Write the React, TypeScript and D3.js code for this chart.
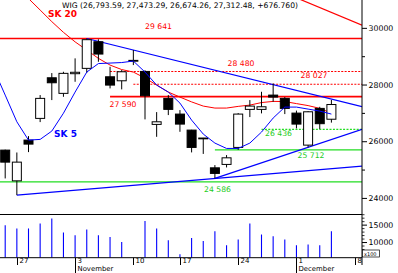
import React from "react";
import * as d3 from "d3";

// ---------- data ----------
const sessions = [
  "10-23", "10-24", "10-27", "10-28", "10-29", "10-30", "10-31",
  "11-03", "11-04", "11-05", "11-06", "11-07", "11-10", "11-12",
  "11-13", "11-14", "11-17", "11-18", "11-19", "11-20", "11-21",
  "11-24", "11-25", "11-26", "11-27", "11-28", "12-01", "12-02",
  "12-03", "12-04", "12-05", "12-08",
];

const opens = [null, 25704, 24620, 26057, 26823, 28256, 27706, 28400, 28588, 29527, 28291, 28150, 28840, 28480, 26611, 27529, 26975, 26410, 26130, 25079, 25199, 25799, 27141, 27141, 27645, 27529, 27010, 25880, 27176, 26793.59];
const highs = [null, 25720, 25620, 26198, 27646, 28422, 28468, 28941, 29641, 29612, 28644, 28528, 29234, 28520, 27045, 27646, 27116, 26420, 26135, 25175, 25528, 27010, 27469, 27762, 28058, 27575, 27098, 27081, 27232, 27473.29];
const lows = [null, 24705, 24116, 25633, 26692, 27469, 27585, 28115, 28422, 28821, 27882, 27847, 28704, 26788, 26173, 26940, 26350, 25623, 25570, 24705, 25093, 25712, 26869, 27000, 27409, 26975, 26470, 25800, 26445, 26674.26];
const closes = [null, 25280, 25280, 25916, 27529, 28080, 28412, 28450, 29600, 29093, 27998, 28468, 28870, 27621, 26703, 27141, 26622, 25799, 26117, 24882, 25432, 26975, 27257, 27233, 27575, 27176, 26622, 27056, 26636, 27312.48];
const volumes = [null, 15000, 14050, 14050, 15490, 16940, 12890, 12110, 13760, 12110, 11620, 10170, null, 16160, 14050, 10670, 6620, 11330, 10460, 13270, 9220, 10870, 15490, 12310, 11820, 10870, 9220, 9420, 9220, 13270];

const sk5 = [28574, 27645, 26703, 26057, 26082, 26375, 27006, 27751, 28457, 28757, 28775, 28793, 28846, 28457, 27998, 27751, 27363, 26763, 26270, 25952, 25763, 25763, 25952, 26340, 26835, 27222, 27222, 27151, 27081, 26975];
const sk20 = [32340, 31917, 31476, 31052, 30646, 30237, 29859, 29523, 29234, 28941, 28704, 28546, 28457, 28246, 27999, 27751, 27575, 27405, 27257, 27187, 27187, 27247, 27292, 27381, 27423, 27416, 27345, 27275, 27176, 27010];

const priceTicks = [24000, 26000, 28000, 30000];
const priceMinorTicks = [25000, 27000, 29000];
const volumeTicks = [10000, 15000];
const volumeMinorTicks = [6000, 7000, 8000, 9000, 11000, 12000, 13000, 14000, 16000, 17000, 18000];

const dayTicks = ["10-27", "11-03", "11-10", "11-17", "11-24", "12-01", "12-08"];
const dayTickLabels = ["27", "3", "10", "17", "24", "1", "8"];
const monthStarts = ["11-03", "12-01"];
const monthLabels = ["November", "December"];

const headerText = "WIG (26,793.59, 27,473.29, 26,674.26, 27,312.48, +676.760)";

// horizontal support / resistance levels
const levelValues = [29641, 28480, 28027, 27590, 26436, 25712, 24586];
const levelStarts = [null, "11-06", "11-10", "11-06", "11-26", "11-20", null];
const levelKinds = ["red", "redDot", "redDot", "red", "greenDot", "green", "green"];
const levelLabels = ["29 641", "28 480", "28 027", "27 590", "26 436", "25 712", "24 586"];

// trend lines: two anchor points (session, value), extended to the right edge
const trendFrom: [string, number][] = [["10-27", 24116], ["11-04", 29641], ["11-20", 24705], ["12-01", 31076]];
const trendTo: [string, number][] = [["11-20", 24705], ["11-10", 29234], ["12-02", 25800], ["12-08", 30219]];
const trendColors = ["blue", "blue", "blue", "red"];

// ---------- layout ----------
const W = 398;
const H = 273;
const plotRight = 362;
const priceBottom = 214;
const volBottom = 257.5;
const FONT = "DejaVu Sans, Verdana, sans-serif";
const RED = "#ff0000";
const BLUE = "#0000ff";
const GREEN_LINE = "#22dd22";
const GREEN_TEXT = "#1ccc1c";

const labelLayout = [
  { cx: 158.5, dy: -10 },
  { cx: 241, dy: -5.5 },
  { cx: 314, dy: -6 },
  { cx: 123, dy: 10.7 },
  { cx: 278.5, dy: 6.6 },
  { cx: 311, dy: 8.2 },
  { cx: 217.5, dy: 10.2 },
];

export default function App() {
  const xi = d3.scaleLinear().domain([1, 31]).range([5.2, 354.7]);
  const xd = (d: string) => xi(sessions.indexOf(d));
  const y = d3.scaleLinear().domain([23450, 31000]).range([priceBottom, 0]);
  const yv = d3.scaleLinear().domain([5700, 18200]).range([volBottom, 214]);

  const lineGen = d3
    .line<number>()
    .x((_, i) => xi(i))
    .y((v) => y(v));

  const bodyW = 9;

  const candles = opens.map((o, i) => {
    if (o === null) return null;
    const h = highs[i] as number;
    const l = lows[i] as number;
    const c = closes[i] as number;
    const cx = xi(i);
    const up = c >= o;
    const top = y(Math.max(o, c));
    const bot = y(Math.min(o, c));
    return (
      <g key={"c" + i}>
        <line x1={cx} x2={cx} y1={y(h)} y2={y(l)} stroke="#000" strokeWidth={1} />
        <rect
          x={cx - bodyW / 2}
          y={top}
          width={bodyW}
          height={Math.max(0.8, bot - top)}
          fill={up ? "#fff" : "#000"}
          stroke="#000"
          strokeWidth={1}
        />
      </g>
    );
  });

  const levels = levelValues.map((v, i) => {
    const kind = levelKinds[i];
    const start = levelStarts[i];
    const x1 = start === null ? 0 : xd(start);
    const isRed = kind.startsWith("red");
    const dotted = kind.endsWith("Dot");
    const color = isRed ? RED : GREEN_LINE;
    const yy = y(v);
    const lay = labelLayout[i];
    return (
      <g key={"l" + i}>
        <line
          x1={x1}
          x2={plotRight}
          y1={yy}
          y2={yy}
          stroke={color}
          strokeWidth={dotted ? 1.1 : isRed ? 1.7 : 1.2}
          strokeDasharray={dotted ? "2,1.4" : undefined}
        />
        <text
          x={lay.cx}
          y={yy + lay.dy}
          textAnchor="middle"
          fontFamily={FONT}
          fontSize={7.7}
          fill={isRed ? RED : GREEN_TEXT}
        >
          {levelLabels[i]}
        </text>
      </g>
    );
  });

  const trends = trendFrom.map((a, i) => {
    const b = trendTo[i];
    const xa = xd(a[0]);
    const ya = y(a[1]);
    const xb = xd(b[0]);
    const yb = y(b[1]);
    const slope = (yb - ya) / (xb - xa);
    const xe = plotRight;
    const ye = ya + slope * (xe - xa);
    return (
      <line
        key={"t" + i}
        x1={xa}
        y1={ya}
        x2={xe}
        y2={ye}
        stroke={trendColors[i] === "red" ? RED : BLUE}
        strokeWidth={1.2}
      />
    );
  });

  const volBars = volumes.map((v, i) => {
    if (v === null) return null;
    const cx = xi(i);
    return (
      <line
        key={"v" + i}
        x1={cx}
        x2={cx}
        y1={volBottom}
        y2={yv(v)}
        stroke={BLUE}
        strokeWidth={1.1}
      />
    );
  });

  const dateAxisY = 257.7;

  return (
    <svg
      width={W}
      height={H}
      viewBox={`0 0 ${W} ${H}`}
      style={{ position: "absolute", left: 0, top: 0, display: "block", background: "#fff" }}
    >
      <defs>
        <clipPath id="pclip">
          <rect x={0} y={0} width={plotRight} height={priceBottom} />
        </clipPath>
      </defs>
      <rect x={0} y={0} width={W} height={H} fill="#fff" />

      <g clipPath="url(#pclip)">
        {levels}
        {trends}
        <path d={lineGen(sk20) || ""} fill="none" stroke={RED} strokeWidth={1} />
        {candles}
        <path d={lineGen(sk5) || ""} fill="none" stroke={BLUE} strokeWidth={1} />
      </g>

      {/* header */}
      <text x={62} y={8} fontFamily={FONT} fontSize={7.6} fill="#000" textLength={236} lengthAdjust="spacingAndGlyphs">
        {headerText}
      </text>
      <text x={62.5} y={17.3} textAnchor="middle" fontFamily={FONT} fontWeight="bold" fontSize={9} fill={RED}>
        SK 20
      </text>
      <text x={65.5} y={137.3} textAnchor="middle" fontFamily={FONT} fontWeight="bold" fontSize={9} fill={BLUE}>
        SK 5
      </text>

      {/* separator between price and volume */}
      <line x1={0} x2={plotRight} y1={214.5} y2={214.5} stroke="#000" strokeWidth={1} />

      {/* volume */}
      {volBars}

      {/* right axis */}
      <line x1={plotRight} x2={plotRight} y1={0} y2={265} stroke="#000" strokeWidth={1} />
      {priceTicks.map((t) => (
        <g key={"pt" + t}>
          <line x1={plotRight} x2={plotRight + 5} y1={y(t)} y2={y(t)} stroke="#000" />
          <text x={plotRight + 6.5} y={y(t)} dy="0.35em" fontFamily={FONT} fontSize={7.8} fill="#000">
            {t}
          </text>
        </g>
      ))}
      {priceMinorTicks.map((t) => (
        <line key={"pm" + t} x1={plotRight} x2={plotRight + 3} y1={y(t)} y2={y(t)} stroke="#000" />
      ))}
      {volumeTicks.map((t) => (
        <g key={"vt" + t}>
          <line x1={plotRight} x2={plotRight + 5} y1={yv(t)} y2={yv(t)} stroke="#000" />
          <text x={plotRight + 6.5} y={yv(t)} dy="0.35em" fontFamily={FONT} fontSize={7.8} fill="#000">
            {t}
          </text>
        </g>
      ))}
      {volumeMinorTicks.map((t) => (
        <line key={"vm" + t} x1={plotRight} x2={plotRight + 2.5} y1={yv(t)} y2={yv(t)} stroke="#000" strokeWidth={0.8} />
      ))}
      <rect x={plotRight + 0.5} y={250} width={17} height={7} fill="#fff" stroke="#000" strokeWidth={0.7} />
      <text x={plotRight + 2} y={255.8} fontFamily={FONT} fontSize={5} fill="#000">
        x100
      </text>

      {/* date axis */}
      <line x1={0} x2={plotRight} y1={dateAxisY} y2={dateAxisY} stroke="#000" strokeWidth={1} />
      {dayTicks.map((d, i) => {
        const tx = Math.round(xd(d)) + 0.5;
        const mi = monthStarts.indexOf(d);
        return (
          <g key={"dt" + d}>
            <line x1={tx} x2={tx} y1={dateAxisY} y2={mi >= 0 ? 273 : 265} stroke="#000" strokeWidth={1} />
            <text x={tx + 2} y={263} fontFamily={FONT} fontSize={7} fill="#000">
              {dayTickLabels[i]}
            </text>
            {mi >= 0 && (
              <text x={tx + 2} y={271.2} fontFamily={FONT} fontSize={6.9} fill="#000">
                {monthLabels[mi]}
              </text>
            )}
          </g>
        );
      })}
    </svg>
  );
}
